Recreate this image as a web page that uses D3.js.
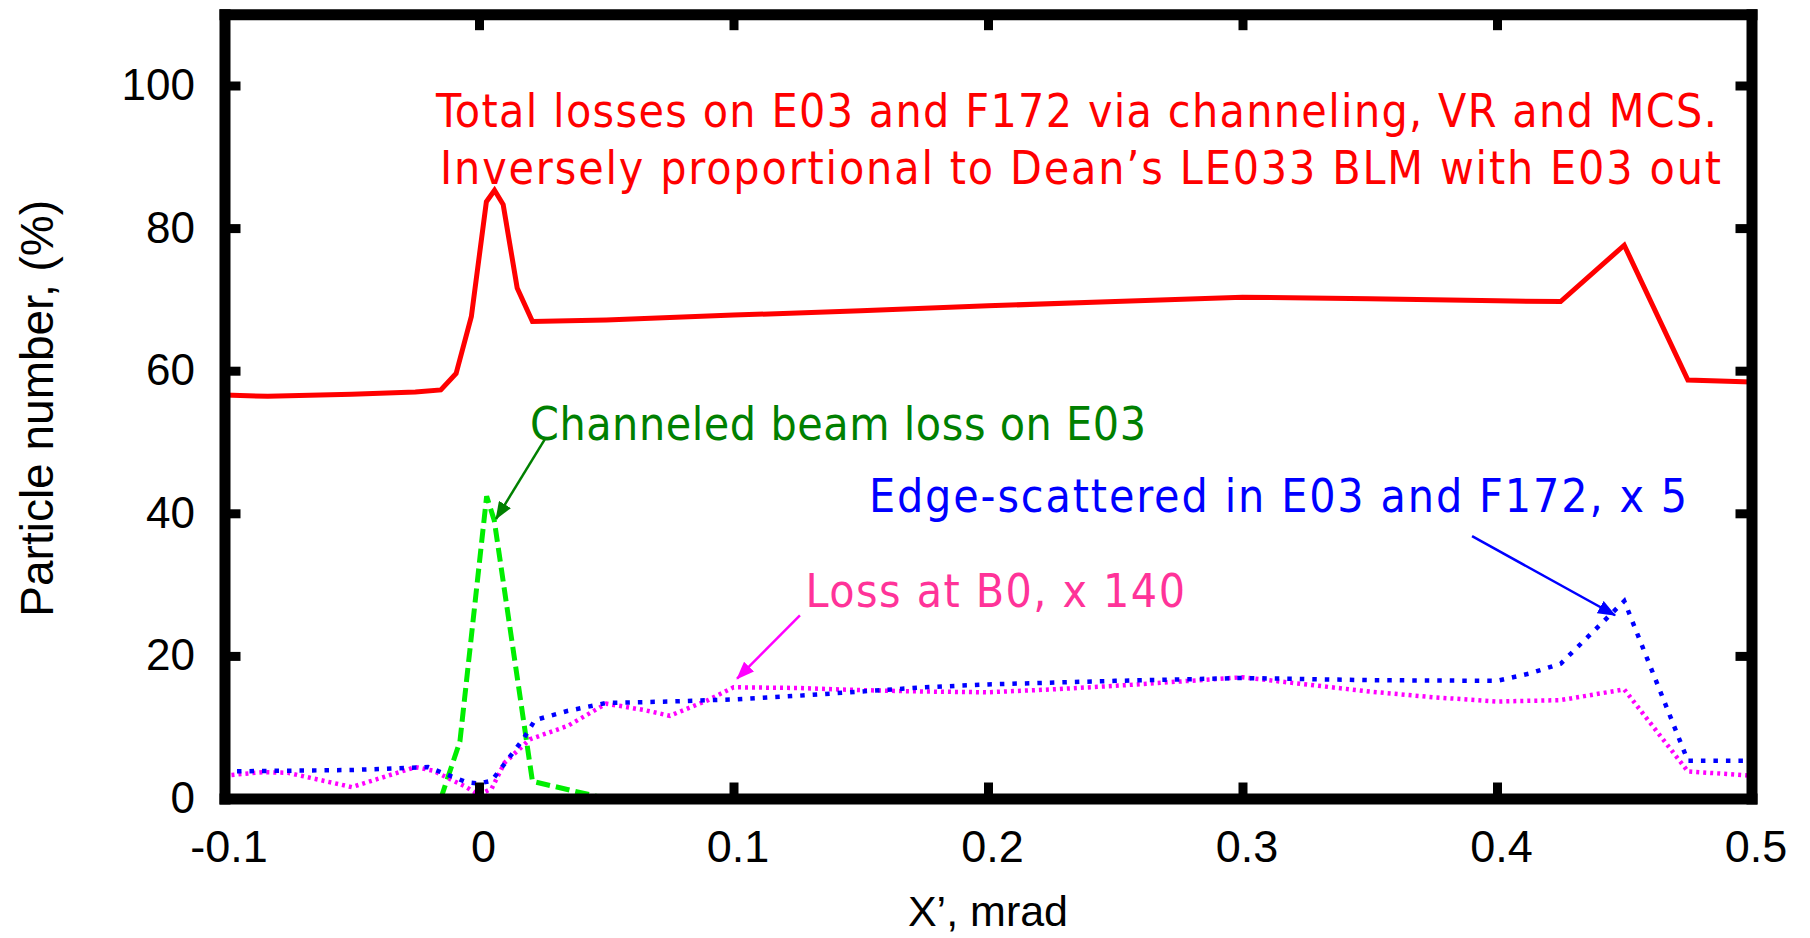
<!DOCTYPE html>
<html>
<head>
<meta charset="utf-8">
<script src="https://cdn.jsdelivr.net/npm/d3@7"></script>
<style>
  html, body { margin: 0; padding: 0; background: #ffffff; }
  svg { display: block; }
</style>
</head>
<body>
<script>
// ---------------- DATA ----------------
const xTicks = [-0.1, 0, 0.1, 0.2, 0.3, 0.4, 0.5];
const xTickLabels = ["-0.1", "0", "0.1", "0.2", "0.3", "0.4", "0.5"];
const yTicks = [0, 20, 40, 60, 80, 100];
const yTickLabels = ["0", "20", "40", "60", "80", "100"];

// Total losses on E03 and F172 (red, solid)
const totalX = [-0.1, -0.083, -0.05, -0.025, -0.015, -0.009, -0.003, 0.0029, 0.0061, 0.0095, 0.015, 0.021, 0.05, 0.1, 0.15, 0.2, 0.25, 0.3, 0.35, 0.4, 0.425, 0.45, 0.475, 0.5];
const totalY = [56.6, 56.4, 56.7, 57.0, 57.3, 59.6, 67.6, 83.7, 85.3, 83.3, 71.6, 66.9, 67.1, 67.8, 68.4, 69.1, 69.7, 70.3, 70.1, 69.8, 69.7, 77.6, 58.7, 58.4];

// Channeled beam loss on E03 (green, dashed)
const chanX = [-0.015, -0.0075, 0.003, 0.006, 0.021, 0.05];
const chanY = [0, 8.0, 42.4, 39.0, 2.4, 0];

// Edge-scattered in E03 and F172, x5 (blue, dotted)
const edgeX = [-0.1, -0.075, -0.05, -0.02, -0.005, 0, 0.005, 0.0175, 0.022, 0.035, 0.05, 0.075, 0.1, 0.125, 0.15, 0.175, 0.2, 0.25, 0.3, 0.35, 0.4, 0.4125, 0.425, 0.45, 0.475, 0.5];
const edgeY = [3.8, 3.9, 4.0, 4.4, 2.3, 2.1, 2.5, 8.4, 11.0, 12.3, 13.4, 13.6, 13.9, 14.4, 15.0, 15.6, 16.0, 16.5, 16.9, 16.6, 16.5, 17.5, 18.9, 27.7, 5.3, 5.3];

// Loss at B0, x140 (magenta, fine dotted)
const b0X = [-0.1, -0.085, -0.075, -0.05, -0.025, -0.018, -0.005, 0, 0.005, 0.01, 0.02, 0.035, 0.05, 0.065, 0.075, 0.09, 0.1, 0.125, 0.15, 0.175, 0.2, 0.225, 0.25, 0.3, 0.35, 0.375, 0.4, 0.425, 0.45, 0.475, 0.5];
const b0Y = [3.2, 3.7, 3.6, 1.6, 4.4, 3.9, 1.6, 0.5, 1.4, 5.0, 8.3, 10.2, 13.3, 12.4, 11.6, 13.8, 15.6, 15.5, 15.2, 15.0, 14.9, 15.3, 15.8, 17.0, 15.0, 14.2, 13.6, 13.8, 15.3, 3.8, 3.2];

// Annotations (data coordinates)
const annoText = [
  "Total losses on E03 and F172 via channeling, VR and MCS.",
  "Inversely proportional to Dean\u2019s LE033 BLM with E03 out",
  "Channeled beam loss on E03",
  "Edge-scattered in E03 and F172, x 5",
  "Loss at B0, x 140"
];
const annoX0 = [-0.0169, -0.0153, 0.0200, 0.1532, 0.1283];
const annoX1 = [0.4864, 0.4880, 0.2621, 0.4747, 0.2774];
const annoY  = [94.18, 86.19, 50.28, 40.18, 26.86];
const annoColor = ["#ff0000", "#ff0000", "#008000", "#0000ff", "#ff3399"];

const arrowFromX = [0.0259, 0.1261, 0.3902];
const arrowFromY = [50.4, 25.7, 36.8];
const arrowToX = [0.0067, 0.1014, 0.4464];
const arrowToY = [39.2, 16.8, 25.7];
const arrowColor = ["#008000", "#ff00ff", "#0000ff"];

// ---------------- CHART ----------------
const W = 1810, H = 938;
const svg = d3.select("body").append("svg").attr("width", W).attr("height", H);
svg.append("rect").attr("width", W).attr("height", H).attr("fill", "#ffffff");

const x = d3.scaleLinear().domain([-0.1, 0.5]).range([224.5, 1751.5]);
const y = d3.scaleLinear().domain([0, 110]).range([798.5, 14.2]);

const defs = svg.append("defs");
arrowColor.forEach((c, i) => {
  defs.append("marker")
    .attr("id", "ah" + i)
    .attr("markerUnits", "userSpaceOnUse")
    .attr("markerWidth", 18).attr("markerHeight", 14)
    .attr("refX", 17).attr("refY", 7)
    .attr("orient", "auto")
    .append("path").attr("d", "M0,0 L18,7 L0,14 Z").attr("fill", c);
});

const line = d3.line().x(d => x(d[0])).y(d => y(d[1]));
const zip = (a, b) => a.map((v, i) => [v, b[i]]);

const series = [
  { xs: totalX, ys: totalY, color: "#ff0000", width: 5, dash: null },
  { xs: chanX, ys: chanY, color: "#00ee00", width: 5, dash: "14,6" },
  { xs: b0X, ys: b0Y, color: "#ff00ff", width: 4.5, dash: "3,4" },
  { xs: edgeX, ys: edgeY, color: "#0000ff", width: 4.5, dash: "4.5,8" }
];
series.forEach(s => {
  svg.append("path")
    .attr("d", line(zip(s.xs, s.ys)))
    .attr("fill", "none")
    .attr("stroke", s.color)
    .attr("stroke-width", s.width)
    .attr("stroke-linejoin", "miter")
    .attr("stroke-dasharray", s.dash);
});

// Axes / frame
function styleAxis(g) {
  g.select(".domain").attr("stroke", "#000").attr("stroke-width", 11).attr("stroke-linecap", "square");
  g.selectAll(".tick line").attr("stroke", "#000").attr("stroke-width", 9);
  g.selectAll(".tick text").attr("fill", "#000");
  g.attr("font-family", "'Liberation Sans', Arial, Helvetica, sans-serif");
}

const gB = svg.append("g").attr("transform", `translate(0,${y(0)})`)
  .call(d3.axisBottom(x).tickValues(xTicks).tickFormat((d, i) => xTickLabels[i])
    .tickSizeInner(-16).tickSizeOuter(0).tickPadding(31.5));
styleAxis(gB);
gB.attr("font-size", 45);
gB.selectAll(".tick text").attr("dx", 4);

const gL = svg.append("g").attr("transform", `translate(${x(-0.1)},0)`)
  .call(d3.axisLeft(y).tickValues(yTicks).tickFormat((d, i) => yTickLabels[i])
    .tickSizeInner(-16).tickSizeOuter(0).tickPadding(29.5));
styleAxis(gL);
gL.attr("font-size", 44);

const gT = svg.append("g").attr("transform", `translate(0,${y(110)})`)
  .call(d3.axisTop(x).tickValues(xTicks).tickFormat(() => "")
    .tickSizeInner(-16).tickSizeOuter(0));
styleAxis(gT);

const gR = svg.append("g").attr("transform", `translate(${x(0.5)},0)`)
  .call(d3.axisRight(y).tickValues(yTicks).tickFormat(() => "")
    .tickSizeInner(-16).tickSizeOuter(0));
styleAxis(gR);

// Axis titles
svg.append("text")
  .attr("x", (x(-0.1) + x(0.5)) / 2).attr("y", 926)
  .attr("text-anchor", "middle")
  .attr("font-family", "'Liberation Sans', Arial, Helvetica, sans-serif")
  .attr("font-size", 43).attr("fill", "#000")
  .text("X\u2019, mrad");

svg.append("text")
  .attr("transform", `translate(36,${(y(0) + y(110)) / 2 + 2})rotate(-90)`)
  .attr("text-anchor", "middle").attr("dy", "0.36em")
  .attr("font-family", "'Liberation Sans', Arial, Helvetica, sans-serif")
  .attr("font-size", 46).attr("fill", "#000")
  .text("Particle number, (%)");

// Annotations
annoText.forEach((t, i) => {
  svg.append("text")
    .attr("x", x(annoX0[i])).attr("y", y(annoY[i]))
    .attr("textLength", x(annoX1[i]) - x(annoX0[i]))
    .attr("lengthAdjust", "spacing")
    .attr("font-family", "'Liberation Sans Narrow', 'DejaVu Sans Condensed', 'Liberation Sans', sans-serif")
    .attr("font-size", 46)
    .attr("fill", annoColor[i])
    .text(t);
});

arrowColor.forEach((c, i) => {
  svg.append("line")
    .attr("x1", x(arrowFromX[i])).attr("y1", y(arrowFromY[i]))
    .attr("x2", x(arrowToX[i])).attr("y2", y(arrowToY[i]))
    .attr("stroke", c).attr("stroke-width", 2.5)
    .attr("marker-end", `url(#ah${i})`);
});
</script>
</body>
</html>
